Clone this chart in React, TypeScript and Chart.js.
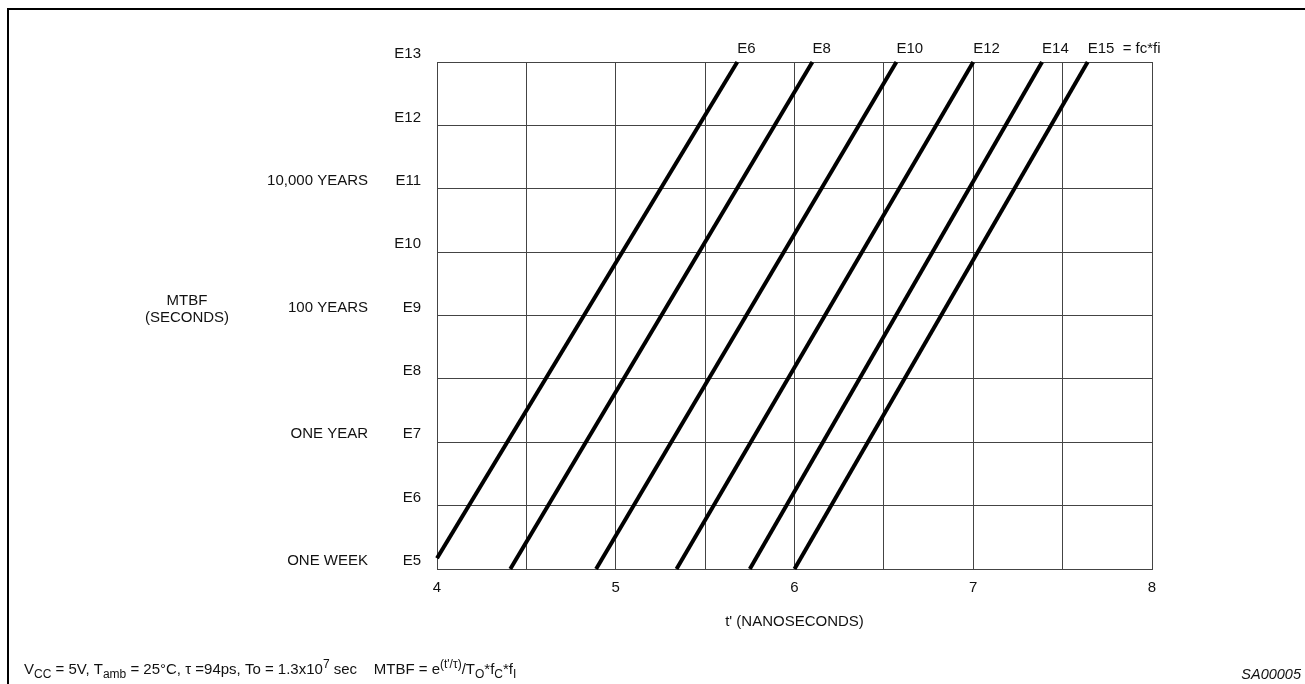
import React, { useEffect, useRef } from 'react';
import { Chart, registerables } from 'chart.js';

Chart.register(...registerables);

// ---- data ----
const lineLabels = ['E6', 'E8', 'E10', 'E12', 'E14', 'E15'];
const lastLabelSuffix = '  = fc*fi';
const lineStartT = [4.0, 4.41, 4.89, 5.34, 5.75, 6.0];
const lineStartLog = [5.17, 5, 5, 5, 5, 5];
const lineEndT = [5.68, 6.1, 6.57, 7.0, 7.385, 7.64];
const lineEndLog = [13, 13, 13, 13, 13, 13];

const xMin = 4;
const xMax = 8;
const xStep = 0.5;
const yMin = 5;
const yMax = 13;

const yearTickValues = [5, 7, 9, 11];
const yearTickText = ['ONE WEEK', 'ONE YEAR', '100 YEARS', '10,000 YEARS'];

const xTitle = "t' (NANOSECONDS)";
const yTitleLines = ['MTBF', '(SECONDS)'];
const figureId = 'SA00005';

// footer segments: text, vertical shift (px, + is down), font size
const footerSegments: [string, number, number][] = [
  ['V', 0, 15],
  ['CC', 4, 12],
  [' = 5V, T', 0, 15],
  ['amb', 4, 12],
  [' = 25°C, τ =94ps, To = 1.3x10', 0, 15],
  ['7', -6, 12],
  [' sec    MTBF = e', 0, 15],
  ["(t'/τ)", -6, 12],
  ['/T', 0, 15],
  ['O', 4, 12],
  ['*f', 0, 15],
  ['C', 4, 12],
  ['*f', 0, 15],
  ['I', 4, 12],
];

const FONT = "'Liberation Sans', Arial, Helvetica, sans-serif";
const TEXT = '#111';
const GRID = '#444';

const annotations = {
  id: 'annotations',
  afterDraw(chart: any) {
    const ctx = chart.ctx;
    ctx.save();
    ctx.fillStyle = TEXT;
    // line labels at top
    ctx.font = `15px ${FONT}`;
    ctx.textAlign = 'left';
    ctx.textBaseline = 'middle';
    chart.data.datasets.forEach((ds: any, i: number) => {
      const meta = chart.getDatasetMeta(i);
      const pts = meta.data;
      const last = pts[pts.length - 1];
      const label = lineLabels[i] + (i === lineLabels.length - 1 ? lastLabelSuffix : '');
      ctx.fillText(label, last.x, 49);
    });
    // y title
    ctx.textAlign = 'center';
    ctx.fillText(yTitleLines[0], 187, 301);
    ctx.fillText(yTitleLines[1], 187, 318);
    // footer
    ctx.textAlign = 'left';
    ctx.textBaseline = 'alphabetic';
    let x = 24;
    const base = 674;
    for (const [t, dy, size] of footerSegments) {
      ctx.font = `${size}px ${FONT}`;
      ctx.fillText(t, x, base + dy);
      x += ctx.measureText(t).width;
    }
    // figure id
    ctx.font = `italic 14.5px ${FONT}`;
    ctx.textAlign = 'right';
    ctx.fillText(figureId, 1301, 679);
    ctx.restore();
  },
};

export default function App() {
  const ref = useRef<HTMLCanvasElement>(null);

  useEffect(() => {
    if (!ref.current) return;
    const datasets = lineLabels.map((lab, i) => ({
      label: lab,
      data: [
        { x: lineStartT[i], y: lineStartLog[i] },
        { x: lineEndT[i], y: lineEndLog[i] },
      ],
      borderColor: '#000',
      borderWidth: 4,
      pointRadius: 0,
      showLine: true,
      fill: false,
      tension: 0,
    }));

    const chart = new Chart(ref.current, {
      type: 'scatter',
      data: { datasets },
      plugins: [annotations],
      options: {
        animation: false,
        responsive: false,
        clip: false as any,
        layout: { padding: { left: 0, top: 62, right: 153, bottom: 0 } },
        font: { family: FONT, size: 15 } as any,
        plugins: {
          legend: { display: false },
          tooltip: { enabled: false },
        },
        scales: {
          x: {
            type: 'linear',
            min: xMin,
            max: xMax,
            afterFit: (s: any) => {
              s.height = 115;
            },
            grid: { color: GRID, lineWidth: 1, drawTicks: false },
            border: { color: GRID, width: 1 },
            ticks: {
              stepSize: xStep,
              padding: 10,
              color: TEXT,
              font: { family: FONT, size: 15 },
              maxRotation: 0,
              autoSkip: false,
              callback: (v: any) => (Number.isInteger(Number(v)) ? String(v) : ''),
            },
            title: {
              display: true,
              text: xTitle,
              color: TEXT,
              font: { family: FONT, size: 15 },
              padding: { top: 0, bottom: 53 },
            },
          },
          y: {
            type: 'linear',
            min: yMin,
            max: yMax,
            weight: 0,
            afterFit: (s: any) => {
              s.width = 69;
            },
            grid: { color: GRID, lineWidth: 1, drawTicks: false },
            border: { color: GRID, width: 1 },
            ticks: {
              stepSize: 1,
              padding: 16,
              labelOffset: -8,
              color: TEXT,
              font: { family: FONT, size: 15 },
              callback: (v: any) => 'E' + v,
            },
          },
          y2: {
            type: 'linear',
            position: 'left',
            min: yMin,
            max: yMax,
            weight: 1,
            afterFit: (s: any) => {
              s.width = 368;
            },
            grid: { display: false, drawTicks: false },
            border: { display: false },
            ticks: {
              stepSize: 1,
              padding: 0,
              labelOffset: -8,
              color: TEXT,
              font: { family: FONT, size: 15 },
              autoSkip: false,
              callback: (v: any) => {
                const i = yearTickValues.indexOf(Number(v));
                return i >= 0 ? yearTickText[i] : '';
              },
            },
          },
        },
      } as any,
    });
    return () => chart.destroy();
  }, []);

  return (
    <>
      <div
        style={{
          position: 'fixed',
          left: 7,
          top: 8,
          width: 1400,
          height: 800,
          border: '2px solid #000',
          boxSizing: 'border-box',
        }}
      />
      <canvas
        ref={ref}
        width={1305}
        height={684}
        style={{ position: 'fixed', left: 0, top: 0, width: 1305, height: 684 }}
      />
    </>
  );
}
